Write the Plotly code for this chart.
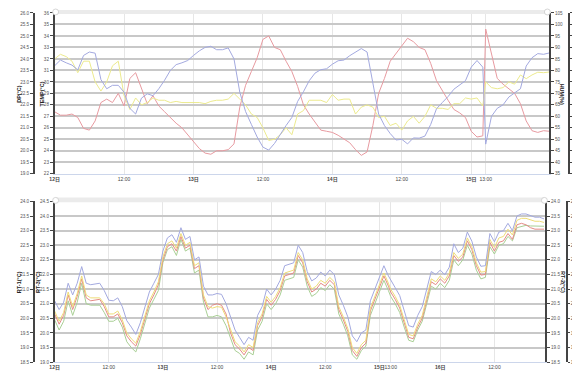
import plotly.graph_objects as go
import pandas as pd

# ---------------- data ----------------
# Upper panel: hourly readings, 12日 00:00 .. 15日 02:00, then 15日 13:00 .. 16日 00:00 (logging gap)
temp_pre = [27.4, 27.1, 27.1, 27.2, 26.9, 25.95, 25.8, 26.6, 28.2, 28.5,
            28.2, 29.0, 27.9, 30.3, 30.8, 29.4, 28.1, 28.8, 27.9, 27.4,
            26.9, 26.4, 26.0, 25.4, 24.9, 24.2, 23.8, 23.7, 24.0, 24.0,
            24.1, 24.6, 27.8, 29.7, 30.9, 32.1, 33.7, 34.0, 33.0, 32.8,
            31.8, 30.9, 29.6, 28.0, 27.2, 26.5, 25.8, 25.7, 25.6, 25.35,
            25.0, 24.7, 24.1, 23.6, 23.9, 26.2, 29.0, 30.3, 31.8, 32.5,
            33.1, 33.8, 33.5, 33.0, 32.8, 31.6, 30.1, 29.2, 28.4, 27.6,
            27.3, 26.9, 25.7, 25.2, 25.3]
temp_post = [34.6, 32.4, 30.3, 29.8, 29.4, 29.0, 28.1, 26.6, 25.75, 25.6, 25.75, 25.7]

hum_pre = [82.0, 84.5, 83.3, 82.3, 80.2, 86.5, 88.0, 87.5, 76.0, 72.0,
           73.5, 73.5, 70.5, 63.5, 61.0, 67.9, 69.8, 69.0, 72.0, 75.7,
           80.0, 82.5, 83.3, 84.3, 86.5, 88.5, 90.0, 90.5, 89.0, 89.0,
           89.8, 85.0, 70.5, 62.1, 56.5, 51.0, 46.6, 45.3, 48.2, 52.2,
           56.0, 59.5, 66.5, 70.7, 75.5, 78.8, 80.3, 80.7, 82.7, 84.2,
           84.5, 86.4, 88.0, 89.5, 88.0, 74.5, 61.0, 56.0, 52.5, 49.7,
           50.0, 48.0, 50.6, 50.5, 51.4, 56.5, 63.3, 66.0, 68.6, 71.8,
           73.5, 75.5, 81.4, 84.3, 81.4]
hum_post = [47.9, 60.0, 63.5, 65.0, 68.4, 70.2, 72.0, 81.9, 85.5, 87.3, 87.0, 87.6]

dp_pre = [24.0, 24.2, 24.1, 23.9, 23.4, 23.9, 23.9, 23.0, 22.6, 23.0,
          23.7, 23.9, 22.4, 21.8, 22.3, 22.0, 22.1, 22.3, 22.2, 22.2,
          22.1, 22.15, 22.1, 22.1, 22.1, 22.1, 22.05, 22.15, 22.2, 22.2,
          22.25, 22.5, 22.25, 22.0, 21.6, 21.45, 21.0, 20.45, 20.5, 20.7,
          21.0, 20.7, 21.6, 21.75, 22.2, 22.2, 22.2, 22.1, 22.45, 22.2,
          22.25, 22.25, 21.6, 21.9, 22.0, 21.9, 21.45, 21.5, 21.1, 21.2,
          20.9, 21.3, 21.5, 21.2, 21.5, 22.0, 21.85, 21.85, 21.8, 22.05,
          22.05, 22.3, 22.25, 22.3, 21.95]
dp_post = [23.0, 22.75, 22.7, 22.75, 23.0, 22.9, 23.3, 23.14, 23.3, 23.42, 23.4, 23.43]

# Lower panel: hourly readings, 12日 00:00 .. 15日 02:00, then 15日 13:00 .. 16日 23:00
rt_blue_pre = [21.1, 20.8, 21.05, 21.7, 21.3, 21.7, 22.27, 21.7, 21.65, 21.68,
               21.7, 21.45, 21.12, 21.1, 21.2, 20.9, 20.42, 20.2, 19.95, 20.35,
               20.92, 21.4, 21.7, 22.0, 22.8, 23.25, 23.36, 23.1, 23.6, 23.2,
               23.3, 22.5, 22.6, 21.6, 21.3, 21.3, 21.35, 21.32, 21.0, 20.55,
               20.1, 19.85, 19.6, 19.85, 19.75, 20.6, 20.9, 21.5, 21.3, 21.5,
               21.8, 22.3, 22.35, 22.4, 23.0, 22.75, 22.1, 21.78, 21.88, 22.08,
               21.95, 22.15, 22.0, 21.3, 20.95, 20.55, 19.9, 19.7, 20.0, 20.1,
               21.1, 21.5, 21.85, 22.3, 21.95]
rt_blue_post = [21.8, 21.55, 21.28, 20.75, 20.25, 20.2, 20.6, 20.9, 21.49, 22.1,
                22.0, 22.15, 21.99, 22.25, 23.05, 22.75, 22.9, 23.45, 23.14, 22.6,
                22.28, 22.3, 23.4, 23.12, 23.45, 23.5, 23.75, 23.5, 24.0, 24.07,
                24.07, 24.02, 23.96, 23.96, 23.9]

rt_yellow_pre = [20.75, 20.4, 20.7, 21.4, 20.9, 21.35, 21.95, 21.3, 21.2, 21.2,
                 21.2, 21.0, 20.65, 20.65, 20.75, 20.45, 20.0, 19.8, 19.65, 20.05,
                 20.6, 21.1, 21.4, 21.75, 22.6, 23.05, 23.15, 22.9, 23.4, 23.0,
                 23.1, 22.3, 22.4, 21.3, 20.9, 20.85, 20.9, 20.88, 20.55, 20.1,
                 19.7, 19.55, 19.35, 19.6, 19.5, 20.35, 20.65, 21.25, 21.05, 21.25,
                 21.55, 22.05, 22.1, 22.15, 22.75, 22.5, 21.85, 21.5, 21.6, 21.8,
                 21.7, 21.9, 21.75, 20.9, 20.55, 20.15, 19.5, 19.3, 19.6, 19.75,
                 20.85, 21.25, 21.6, 22.05, 21.7]
rt_yellow_post = [21.5, 21.25, 20.95, 20.45, 19.95, 19.9, 20.3, 20.6, 21.2, 21.85,
                  21.75, 21.95, 21.8, 22.05, 22.75, 22.55, 22.7, 23.25, 22.95, 22.4,
                  22.08, 22.1, 23.2, 22.92, 23.25, 23.3, 23.55, 23.35, 23.85, 23.92,
                  23.92, 23.87, 23.82, 23.82, 23.78]

rt_red_pre = [20.65, 20.3, 20.6, 21.3, 20.8, 21.25, 21.85, 21.2, 21.1, 21.12,
              21.15, 20.9, 20.55, 20.55, 20.65, 20.35, 19.9, 19.7, 19.55, 19.95,
              20.5, 21.0, 21.3, 21.65, 22.5, 22.95, 23.05, 22.8, 23.3, 22.9,
              23.0, 22.2, 22.3, 21.2, 20.8, 20.95, 21.0, 20.95, 20.65, 20.0,
              19.6, 19.45, 19.25, 19.5, 19.4, 20.25, 20.55, 21.15, 20.95, 21.15,
              21.45, 21.95, 22.0, 22.05, 22.65, 22.4, 21.75, 21.4, 21.5, 21.7,
              21.6, 21.8, 21.65, 20.8, 20.45, 20.05, 19.4, 19.2, 19.5, 19.65,
              20.75, 21.15, 21.5, 21.95, 21.6]
rt_red_post = [21.4, 21.15, 20.85, 20.35, 19.85, 19.8, 20.2, 20.5, 21.1, 21.75,
               21.65, 21.85, 21.7, 21.95, 22.65, 22.45, 22.6, 23.15, 22.85, 22.3,
               21.98, 22.0, 23.1, 22.8, 23.1, 23.15, 23.4, 23.2, 23.7, 23.75,
               23.7, 23.6, 23.55, 23.55, 23.55]

rt_green_pre = [20.45, 20.1, 20.4, 21.1, 20.6, 21.05, 21.7, 21.0, 20.95, 20.95,
                20.95, 20.7, 20.4, 20.4, 20.5, 20.2, 19.7, 19.5, 19.35, 19.8,
                20.35, 20.85, 21.15, 21.45, 22.4, 22.85, 22.95, 22.65, 23.2, 22.8,
                22.9, 22.05, 22.15, 21.05, 20.55, 20.55, 20.6, 20.55, 20.25, 19.8,
                19.4, 19.3, 19.1, 19.35, 19.25, 20.1, 20.4, 21.0, 20.8, 21.0,
                21.3, 21.8, 21.85, 21.9, 22.5, 22.25, 21.6, 21.25, 21.35, 21.55,
                21.45, 21.65, 21.5, 20.65, 20.3, 19.9, 19.25, 19.1, 19.4, 19.55,
                20.6, 21.0, 21.35, 21.8, 21.45]
rt_green_post = [21.25, 21.0, 20.7, 20.2, 19.75, 19.7, 20.1, 20.4, 21.0, 21.6,
                 21.5, 21.7, 21.55, 21.8, 22.5, 22.3, 22.5, 23.0, 22.7, 22.15,
                 21.85, 21.9, 22.95, 22.7, 23.0, 23.05, 23.3, 23.15, 23.6, 23.65,
                 23.68, 23.66, 23.65, 23.65, 23.65]

# x tick labels
top_tick_times = ["2019-08-12 00:00", "2019-08-12 12:00", "2019-08-13 00:00", "2019-08-13 12:00",
                  "2019-08-14 00:00", "2019-08-14 12:00", "2019-08-15 00:00", "2019-08-15 13:00"]
top_tick_text = ["<b>12日</b>", "12:00", "<b>13日</b>", "12:00", "<b>14日</b>", "12:00",
                 "<b>15日</b>", "13:00"]
bot_tick_times = top_tick_times + ["2019-08-16 00:00", "2019-08-16 12:00"]
bot_tick_text = top_tick_text + ["<b>16日</b>", "12:00"]

# ---------------- times ----------------
pre_times = list(pd.date_range("2019-08-12 00:00", "2019-08-15 02:00", freq="h"))
top_times = pre_times + list(pd.date_range("2019-08-15 13:00", "2019-08-16 00:00", freq="h"))
bot_times = pre_times + list(pd.date_range("2019-08-15 13:00", "2019-08-16 23:00", freq="h"))

temp = temp_pre + temp_post
hum = hum_pre + hum_post
dp = dp_pre + dp_post
rt_blue = rt_blue_pre + rt_blue_post
rt_yellow = rt_yellow_pre + rt_yellow_post
rt_red = rt_red_pre + rt_red_post
rt_green = rt_green_pre + rt_green_post
for s in (temp, hum, dp):
    assert len(s) == len(top_times), len(s)
for s in (rt_blue, rt_yellow, rt_red, rt_green):
    assert len(s) == len(bot_times), len(s)

# ---------------- figure ----------------
W, H = 580, 371
FONT = "Liberation Sans, Arial, Noto Sans CJK JP, sans-serif"
BLUE, RED, YELLOW, GREEN = "#a3a9df", "#e79aa0", "#ecea8e", "#a9cf95"
RT_YELLOW, RT_RED = "#eedc78", "#e48a86"

def px(x):
    return x / W

def py(y):
    return 1 - y / H

fig = go.Figure()
fig.add_trace(go.Scatter(x=top_times, y=temp, xaxis="x", yaxis="y", mode="lines",
                         line=dict(color=RED, width=1), name="TEMP"))
fig.add_trace(go.Scatter(x=top_times, y=hum, xaxis="x", yaxis="y3", mode="lines",
                         line=dict(color=BLUE, width=1), name="HUM"))
fig.add_trace(go.Scatter(x=top_times, y=dp, xaxis="x", yaxis="y2", mode="lines",
                         line=dict(color=YELLOW, width=1), name="DP"))
fig.add_trace(go.Scatter(x=[], y=[], xaxis="x", yaxis="y4", mode="lines", name="Rainfall"))

fig.add_trace(go.Scatter(x=bot_times, y=rt_green, xaxis="x2", yaxis="y5", mode="lines",
                         line=dict(color=GREEN, width=1), name="RT-g"))
fig.add_trace(go.Scatter(x=bot_times, y=rt_red, xaxis="x2", yaxis="y5", mode="lines",
                         line=dict(color=RT_RED, width=1), name="RT-r"))
fig.add_trace(go.Scatter(x=bot_times, y=rt_yellow, xaxis="x2", yaxis="y5", mode="lines",
                         line=dict(color=RT_YELLOW, width=1), name="RT-y"))
fig.add_trace(go.Scatter(x=bot_times, y=rt_blue, xaxis="x2", yaxis="y5", mode="lines",
                         line=dict(color=BLUE, width=1), name="RT-b"))
for ax in ("y6", "y7", "y8"):
    fig.add_trace(go.Scatter(x=[], y=[], xaxis="x2", yaxis=ax, mode="lines"))

top_dom = [py(166), py(3)]
bot_dom = [py(357), py(194)]
tickfont = dict(size=4.6, color="#555", family=FONT)
yax_common = dict(showline=True, linecolor="#444", linewidth=1.5, ticks="outside",
                  tickwidth=1, tickcolor="#444", tickfont=tickfont,
                  zeroline=False, fixedrange=True)
grid = dict(showgrid=True, gridcolor="#c8c8c8", gridwidth=1.5)
nogrid = dict(showgrid=False)
xax_common = dict(type="date", showline=True, linecolor="#ccd6eb", linewidth=1,
                  ticks="", tickfont=dict(size=5, color="#444", family=FONT), tickangle=0,
                  showgrid=True, gridcolor="#e6e6e6", gridwidth=1, tickmode="array",
                  zeroline=False,
                  rangebreaks=[dict(bounds=["2019-08-15 02:30", "2019-08-15 13:00"])])

fig.update_layout(
    width=W, height=H, margin=dict(l=0, r=0, t=0, b=0), autosize=False,
    paper_bgcolor="white", plot_bgcolor="white", showlegend=False,
    font=dict(family=FONT),
    xaxis=dict(domain=[px(42), px(541)], anchor="y",
               range=["2019-08-12 00:00", "2019-08-16 00:00"],
               tickvals=top_tick_times, ticktext=top_tick_text, **xax_common),
    xaxis2=dict(domain=[px(42), px(537)], anchor="y5",
                range=["2019-08-12 00:00", "2019-08-16 23:18"],
                tickvals=bot_tick_times, ticktext=bot_tick_text, **xax_common),
    yaxis=dict(domain=top_dom, anchor="x", range=[22, 36], dtick=1, tick0=22, ticklen=3,
               **grid, **yax_common),
    yaxis2=dict(overlaying="y", anchor="free", position=px(21), side="left", ticklen=3,
                range=[19, 26], dtick=0.5, tick0=19, tickformat=".1f", **nogrid, **yax_common),
    yaxis3=dict(overlaying="y", anchor="x", side="right", range=[35, 105], dtick=5,
                tick0=35, ticklen=3, **nogrid, **yax_common),
    yaxis4=dict(overlaying="y", anchor="free", position=px(561), side="right", ticklen=2,
                range=[0, 14], dtick=1, tick0=0, **nogrid, **yax_common),
    yaxis5=dict(domain=bot_dom, anchor="x2", range=[19, 24.5], dtick=0.5, tick0=19,
                ticklen=3, tickformat=".1f", **grid, **yax_common),
    yaxis6=dict(overlaying="y5", anchor="free", position=px(21), side="left", ticklen=3,
                range=[18.5, 24], dtick=0.5, tick0=18.5, tickformat=".1f", **nogrid, **yax_common),
    yaxis7=dict(overlaying="y5", anchor="x2", side="right", range=[18.5, 24], dtick=0.5,
                tick0=18.5, ticklen=3, tickformat=".1f", **nogrid, **yax_common),
    yaxis8=dict(overlaying="y5", anchor="free", position=px(559), side="right", ticklen=2,
                range=[18.5, 24], dtick=0.5, tick0=18.5, tickformat=".1f", **nogrid, **yax_common),
)

# axis titles
titles = [("DP(°C)", 6, 85, -90), ("TEMP(°C)", 29, 85, -90),
          ("HUM(%)", 554, 85, 90), ("Rainfall(mm)", 572, 85, 90),
          ("RT-1(°C)", 6, 276, -90), ("RT-3(°C)", 25, 276, -90),
          ("RT-2(°C)", 554, 276, 90), ("RT-4(°C)", 572, 276, 90)]
for text, x, y, ang in titles:
    fig.add_annotation(text=f"<b>{text}</b>", x=px(x), y=py(y), xref="paper", yref="paper",
                       showarrow=False, textangle=ang, xanchor="center", yanchor="middle",
                       font=dict(size=5.5, color="#222", family=FONT))

# light bands along the top of each plot area
for x0, x1, y0, y1 in [(42, 541, 0, 4), (42, 537, 190, 195)]:
    fig.add_shape(type="rect", xref="paper", yref="paper", x0=px(x0), x1=px(x1),
                  y0=py(y1), y1=py(y0), fillcolor="#ebebeb", line=dict(width=0))
for cx, cy in [(43, 2), (539, 2), (43, 193), (536, 193)]:
    fig.add_shape(type="circle", xref="paper", yref="paper", x0=px(cx - 3), x1=px(cx + 3),
                  y0=py(cy + 3), y1=py(cy - 3), fillcolor="white",
                  line=dict(color="#cccccc", width=0.8))

fig.write_html("out.html")
